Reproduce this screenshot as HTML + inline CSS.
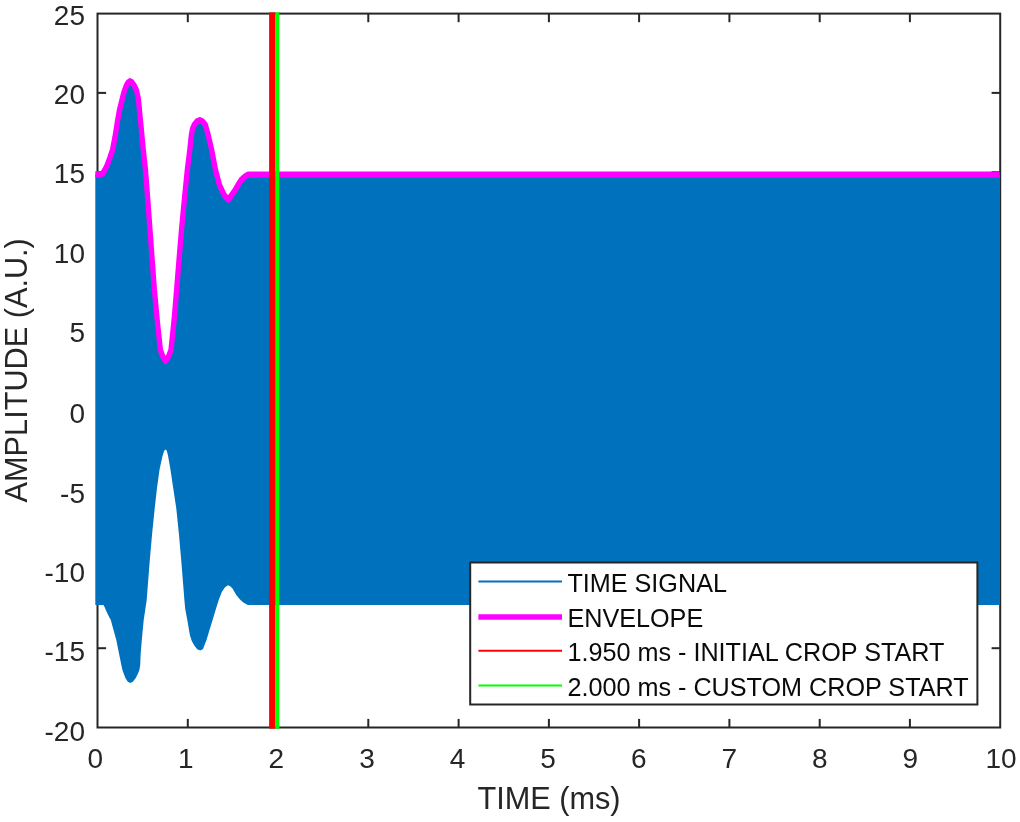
<!DOCTYPE html>
<html><head><meta charset="utf-8"><title>Envelope crop plot</title>
<style>
html,body{margin:0;padding:0;background:#fff;}
body{width:1020px;height:822px;overflow:hidden;}
svg{display:block;filter:blur(0.55px);}
text{font-family:"Liberation Sans",Arial,Helvetica,sans-serif;fill:#262626;}
.tk{font-size:28px;}
.lb{font-size:30.7px;}
.lg{font-size:25.2px;fill:#0a0a0a;}
</style></head><body>
<svg width="1020" height="822" viewBox="0 0 1020 822">
<rect x="0" y="0" width="1020" height="822" fill="#ffffff"/>
<rect x="97.5" y="13.6" width="902.7" height="713.9" fill="none" stroke="#262626" stroke-width="2"/>
<line x1="187.8" y1="727.5" x2="187.8" y2="718.9" stroke="#262626" stroke-width="2"/><line x1="187.8" y1="13.6" x2="187.8" y2="22.2" stroke="#262626" stroke-width="2"/>
<line x1="278.0" y1="727.5" x2="278.0" y2="718.9" stroke="#262626" stroke-width="2"/><line x1="278.0" y1="13.6" x2="278.0" y2="22.2" stroke="#262626" stroke-width="2"/>
<line x1="368.3" y1="727.5" x2="368.3" y2="718.9" stroke="#262626" stroke-width="2"/><line x1="368.3" y1="13.6" x2="368.3" y2="22.2" stroke="#262626" stroke-width="2"/>
<line x1="458.6" y1="727.5" x2="458.6" y2="718.9" stroke="#262626" stroke-width="2"/><line x1="458.6" y1="13.6" x2="458.6" y2="22.2" stroke="#262626" stroke-width="2"/>
<line x1="548.9" y1="727.5" x2="548.9" y2="718.9" stroke="#262626" stroke-width="2"/><line x1="548.9" y1="13.6" x2="548.9" y2="22.2" stroke="#262626" stroke-width="2"/>
<line x1="639.1" y1="727.5" x2="639.1" y2="718.9" stroke="#262626" stroke-width="2"/><line x1="639.1" y1="13.6" x2="639.1" y2="22.2" stroke="#262626" stroke-width="2"/>
<line x1="729.4" y1="727.5" x2="729.4" y2="718.9" stroke="#262626" stroke-width="2"/><line x1="729.4" y1="13.6" x2="729.4" y2="22.2" stroke="#262626" stroke-width="2"/>
<line x1="819.7" y1="727.5" x2="819.7" y2="718.9" stroke="#262626" stroke-width="2"/><line x1="819.7" y1="13.6" x2="819.7" y2="22.2" stroke="#262626" stroke-width="2"/>
<line x1="909.9" y1="727.5" x2="909.9" y2="718.9" stroke="#262626" stroke-width="2"/><line x1="909.9" y1="13.6" x2="909.9" y2="22.2" stroke="#262626" stroke-width="2"/>
<line x1="97.5" y1="648.2" x2="106.1" y2="648.2" stroke="#262626" stroke-width="2"/><line x1="1000.2" y1="648.2" x2="991.6" y2="648.2" stroke="#262626" stroke-width="2"/>
<line x1="97.5" y1="568.9" x2="106.1" y2="568.9" stroke="#262626" stroke-width="2"/><line x1="1000.2" y1="568.9" x2="991.6" y2="568.9" stroke="#262626" stroke-width="2"/>
<line x1="97.5" y1="489.5" x2="106.1" y2="489.5" stroke="#262626" stroke-width="2"/><line x1="1000.2" y1="489.5" x2="991.6" y2="489.5" stroke="#262626" stroke-width="2"/>
<line x1="97.5" y1="410.2" x2="106.1" y2="410.2" stroke="#262626" stroke-width="2"/><line x1="1000.2" y1="410.2" x2="991.6" y2="410.2" stroke="#262626" stroke-width="2"/>
<line x1="97.5" y1="330.9" x2="106.1" y2="330.9" stroke="#262626" stroke-width="2"/><line x1="1000.2" y1="330.9" x2="991.6" y2="330.9" stroke="#262626" stroke-width="2"/>
<line x1="97.5" y1="251.6" x2="106.1" y2="251.6" stroke="#262626" stroke-width="2"/><line x1="1000.2" y1="251.6" x2="991.6" y2="251.6" stroke="#262626" stroke-width="2"/>
<line x1="97.5" y1="172.2" x2="106.1" y2="172.2" stroke="#262626" stroke-width="2"/><line x1="1000.2" y1="172.2" x2="991.6" y2="172.2" stroke="#262626" stroke-width="2"/>
<line x1="97.5" y1="92.9" x2="106.1" y2="92.9" stroke="#262626" stroke-width="2"/><line x1="1000.2" y1="92.9" x2="991.6" y2="92.9" stroke="#262626" stroke-width="2"/>
<polygon points="95.3,174.5 100.5,174.4 102.5,173.6 104.8,170.0 107.2,165.0 110.0,157.5 112.5,150.0 115.0,137.0 117.2,123.0 119.5,110.0 122.0,100.0 124.0,92.0 126.2,86.0 128.0,82.6 130.0,81.2 132.0,82.4 134.0,85.2 136.4,90.0 138.4,99.0 139.9,115.0 141.4,130.0 143.3,150.0 145.5,170.0 147.8,200.0 150.0,230.0 152.2,260.0 154.4,290.0 157.2,320.0 160.4,350.0 163.0,357.0 165.6,361.0 168.3,357.0 171.0,350.0 174.1,320.0 176.6,290.0 179.0,260.0 181.5,230.0 184.3,200.0 187.3,170.0 189.8,150.0 191.4,135.0 192.5,129.0 194.2,125.0 197.0,121.5 199.8,120.2 202.5,121.5 205.4,125.0 208.2,135.0 211.7,150.0 215.5,170.0 219.5,185.0 224.1,195.0 226.5,198.0 228.7,199.5 231.5,195.3 235.2,190.0 238.0,185.0 241.2,180.0 244.5,176.8 248.2,174.6 999.6,174.6 1000.0,174.6 1000.0,605.0 247.9,605.0 246.0,604.0 243.0,602.2 240.0,599.6 236.3,595.0 232.5,588.4 230.3,586.2 227.8,585.3 224.8,587.5 221.8,592.0 218.7,600.0 215.6,610.0 212.6,620.0 209.5,630.0 206.5,640.0 203.0,649.0 200.4,650.6 197.2,649.3 194.3,645.5 191.8,641.0 190.0,635.4 189.0,630.0 187.3,620.0 185.2,608.7 184.4,600.0 182.8,580.0 181.2,560.0 179.0,535.0 176.3,508.4 173.2,488.0 170.4,469.2 168.1,456.0 166.8,450.8 165.5,449.6 164.2,450.8 162.5,456.0 159.6,469.2 157.0,488.0 154.7,508.4 152.0,535.0 149.8,560.0 146.7,600.0 143.7,620.0 141.8,640.0 140.6,655.0 140.2,665.0 139.4,670.0 138.0,673.5 135.8,678.0 132.8,681.8 130.2,683.0 127.8,681.8 125.4,678.0 122.4,670.0 119.3,655.0 116.3,640.0 113.5,630.0 110.8,620.0 108.4,615.5 106.0,610.5 104.8,607.5 103.5,605.0 95.3,605.0" fill="#0072bd"/>
<g transform="scale(1,1.18)"><polyline points="95.30,147.881 100.50,147.797 102.50,147.119 104.80,144.068 107.20,139.831 110.00,133.475 112.50,127.119 115.00,116.102 117.20,104.237 119.50,93.220 122.00,84.746 124.00,77.966 126.20,72.881 128.00,70.000 130.00,68.814 132.00,69.831 134.00,72.203 136.40,76.271 138.40,83.898 139.90,97.458 141.40,110.169 143.30,127.119 145.50,144.068 147.80,169.492 150.00,194.915 152.20,220.339 154.40,245.763 157.20,271.186 160.40,296.610 163.00,302.542 165.60,305.932 168.30,302.542 171.00,296.610 174.10,271.186 176.60,245.763 179.00,220.339 181.50,194.915 184.30,169.492 187.30,144.068 189.80,127.119 191.40,114.407 192.50,109.322 194.20,105.932 197.00,102.966 199.80,101.864 202.50,102.966 205.40,105.932 208.20,114.407 211.70,127.119 215.50,144.068 219.50,156.780 224.10,165.254 226.50,167.797 228.70,169.068 231.50,165.508 235.20,161.017 238.00,156.780 241.20,152.542 244.50,149.831 248.20,147.966 999.60,147.966" fill="none" stroke="#ff00ff" stroke-width="5.3" stroke-linejoin="round" stroke-linecap="butt"/></g>
<rect x="275.2" y="12.4" width="4.1" height="716.3" fill="#00ff00"/>
<rect x="269.1" y="12.4" width="6.1" height="716.3" fill="#ff0000"/>
<text class="tk" x="95.3" y="768.2" text-anchor="middle">0</text><text class="tk" x="185.9" y="768.2" text-anchor="middle">1</text><text class="tk" x="276.4" y="768.2" text-anchor="middle">2</text><text class="tk" x="367.0" y="768.2" text-anchor="middle">3</text><text class="tk" x="457.6" y="768.2" text-anchor="middle">4</text><text class="tk" x="548.1" y="768.2" text-anchor="middle">5</text><text class="tk" x="638.7" y="768.2" text-anchor="middle">6</text><text class="tk" x="729.3" y="768.2" text-anchor="middle">7</text><text class="tk" x="819.9" y="768.2" text-anchor="middle">8</text><text class="tk" x="910.4" y="768.2" text-anchor="middle">9</text><text class="tk" x="1001.0" y="768.2" text-anchor="middle">10</text>
<text class="tk" x="85" y="740.7" text-anchor="end">-20</text><text class="tk" x="85" y="661.4" text-anchor="end">-15</text><text class="tk" x="85" y="582.1" text-anchor="end">-10</text><text class="tk" x="85" y="502.7" text-anchor="end">-5</text><text class="tk" x="85" y="423.4" text-anchor="end">0</text><text class="tk" x="85" y="342.1" text-anchor="end">5</text><text class="tk" x="85" y="262.8" text-anchor="end">10</text><text class="tk" x="85" y="183.4" text-anchor="end">15</text><text class="tk" x="85" y="104.1" text-anchor="end">20</text><text class="tk" x="85" y="24.8" text-anchor="end">25</text>
<text class="lb" x="549" y="809.3" text-anchor="middle">TIME (ms)</text>
<text class="lb" transform="translate(27.4,370.3) rotate(-90)" text-anchor="middle">AMPLITUDE (A.U.)</text>
<rect x="470.2" y="562.5" width="507.2" height="142" fill="#ffffff" stroke="#262626" stroke-width="2"/>
<line x1="478.4" y1="581.4" x2="562" y2="581.4" stroke="#0072bd" stroke-width="2"/><text class="lg" x="567.4" y="591.7">TIME SIGNAL</text>
<line x1="478.4" y1="617" x2="562" y2="617" stroke="#ff00ff" stroke-width="5.6"/><text class="lg" x="567.4" y="627.3">ENVELOPE</text>
<line x1="478.4" y1="650.7" x2="562" y2="650.7" stroke="#ff0000" stroke-width="2"/><text class="lg" x="567.4" y="661.0">1.950 ms - INITIAL CROP START</text>
<line x1="478.4" y1="685.6" x2="562" y2="685.6" stroke="#00ff00" stroke-width="2"/><text class="lg" x="567.4" y="695.9">2.000 ms - CUSTOM CROP START</text>
</svg>
</body></html>
